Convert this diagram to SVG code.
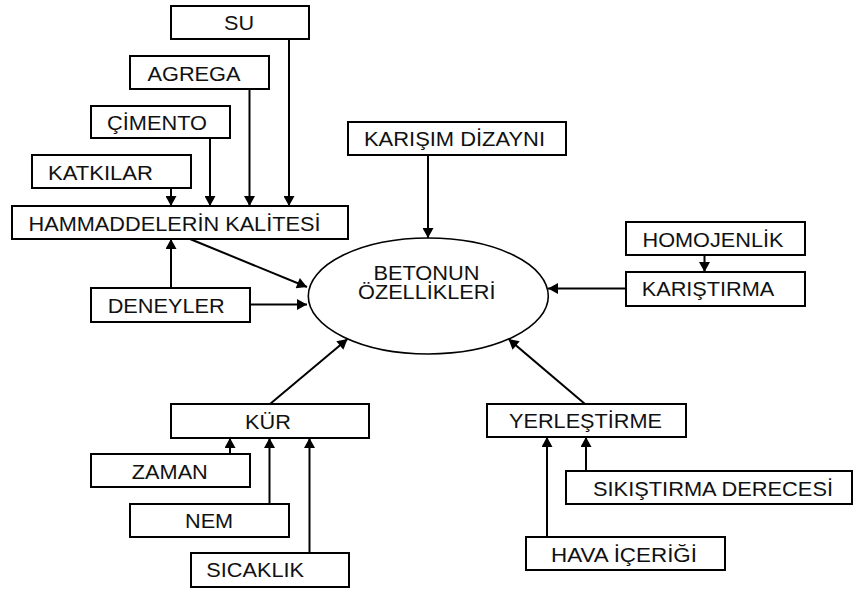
<svg xmlns="http://www.w3.org/2000/svg" width="853" height="590" viewBox="0 0 853 590">
<style>
.box{fill:#fff;stroke:#000;stroke-width:2}
.t{font-family:"Liberation Sans",Arial,sans-serif;font-size:19.5px;fill:#111}
.c{stroke:#000;stroke-width:2;fill:none;marker-end:url(#ah)}
</style>
<defs>
<marker id="ah" markerUnits="userSpaceOnUse" markerWidth="11" markerHeight="11" viewBox="0 0 10 11" refX="10" refY="5.5" orient="auto">
<path d="M0,0 L10,5.5 L0,11 z" fill="#000"/>
</marker>
</defs>
<rect width="853" height="590" fill="#fff"/>
<g id="connectors">
<line class="c" x1="289" y1="39" x2="289" y2="206"/>
<line class="c" x1="249.5" y1="89" x2="249.5" y2="206"/>
<line class="c" x1="210" y1="138" x2="210" y2="206"/>
<line class="c" x1="171" y1="188" x2="171" y2="206"/>
<line class="c" x1="171" y1="288" x2="171" y2="239"/>
<line class="c" x1="190" y1="239" x2="307" y2="287"/>
<line class="c" x1="250" y1="304.5" x2="307" y2="304.5"/>
<line class="c" x1="428" y1="155" x2="428" y2="238"/>
<line class="c" x1="704.5" y1="255" x2="704.5" y2="272"/>
<line class="c" x1="626" y1="288.5" x2="548" y2="288.5"/>
<line class="c" x1="270" y1="404" x2="347.5" y2="339"/>
<line class="c" x1="585" y1="404" x2="508.5" y2="339"/>
<line class="c" x1="230" y1="454" x2="230" y2="438"/>
<line class="c" x1="269.5" y1="504" x2="269.5" y2="438"/>
<line class="c" x1="309.5" y1="553" x2="309.5" y2="438"/>
<line class="c" x1="586" y1="471" x2="586" y2="437"/>
<line class="c" x1="547" y1="537" x2="547" y2="437"/>
</g>
<g id="su"><rect class="box" x="171" y="6" width="138" height="33"/><text class="t" x="224" y="30" textLength="30" lengthAdjust="spacingAndGlyphs">SU</text></g>
<g id="agrega"><rect class="box" x="130" y="56" width="139" height="33"/><text class="t" x="147.5" y="81" textLength="93" lengthAdjust="spacingAndGlyphs">AGREGA</text></g>
<g id="cimento"><rect class="box" x="91" y="106" width="139" height="32"/><text class="t" x="107" y="130" textLength="100" lengthAdjust="spacingAndGlyphs">ÇİMENTO</text></g>
<g id="katkilar"><rect class="box" x="32" y="155" width="159" height="33"/><text class="t" x="48" y="180" textLength="105" lengthAdjust="spacingAndGlyphs">KATKILAR</text></g>
<g id="hammadde"><rect class="box" x="12" y="206" width="336" height="33"/><text class="t" x="28.5" y="231" textLength="292" lengthAdjust="spacingAndGlyphs">HAMMADDELERİN KALİTESİ</text></g>
<g id="deneyler"><rect class="box" x="91" y="288" width="159" height="34"/><text class="t" x="107.7" y="312.7" textLength="117" lengthAdjust="spacingAndGlyphs">DENEYLER</text></g>
<g id="karisim"><rect class="box" x="348" y="122" width="218" height="33"/><text class="t" x="364" y="146" textLength="181" lengthAdjust="spacingAndGlyphs">KARIŞIM DİZAYNI</text></g>
<g id="beton"><ellipse cx="428.3" cy="296" rx="120" ry="58" fill="#fff" stroke="#000" stroke-width="1.6"/><text class="t" x="373.4" y="279.5" textLength="106" lengthAdjust="spacingAndGlyphs">BETONUN</text><text class="t" x="358" y="299.3" textLength="137.5" lengthAdjust="spacingAndGlyphs">ÖZELLİKLERİ</text></g>
<g id="homojenlik"><rect class="box" x="626" y="222" width="179" height="33"/><text class="t" x="642.5" y="246.7" textLength="141" lengthAdjust="spacingAndGlyphs">HOMOJENLİK</text></g>
<g id="karistirma"><rect class="box" x="626" y="272" width="179" height="34"/><text class="t" x="641.7" y="296" textLength="132.6" lengthAdjust="spacingAndGlyphs">KARIŞTIRMA</text></g>
<g id="kur"><rect class="box" x="171" y="404" width="198" height="34"/><text class="t" x="245" y="429" textLength="45.8" lengthAdjust="spacingAndGlyphs">KÜR</text></g>
<g id="zaman"><rect class="box" x="91" y="454" width="159" height="33"/><text class="t" x="131.8" y="479" textLength="76" lengthAdjust="spacingAndGlyphs">ZAMAN</text></g>
<g id="nem"><rect class="box" x="130" y="504" width="159" height="33"/><text class="t" x="185" y="528.3" textLength="48.2" lengthAdjust="spacingAndGlyphs">NEM</text></g>
<g id="sicaklik"><rect class="box" x="191" y="553" width="158" height="34"/><text class="t" x="206.3" y="577.3" textLength="97.7" lengthAdjust="spacingAndGlyphs">SICAKLIK</text></g>
<g id="yerlestirme"><rect class="box" x="487" y="404" width="199" height="33"/><text class="t" x="509" y="428.3" textLength="153" lengthAdjust="spacingAndGlyphs">YERLEŞTİRME</text></g>
<g id="sikistirma"><rect class="box" x="566" y="471" width="286" height="33"/><text class="t" x="593" y="495.7" textLength="240" lengthAdjust="spacingAndGlyphs">SIKIŞTIRMA DERECESİ</text></g>
<g id="hava"><rect class="box" x="526" y="537" width="199" height="33"/><text class="t" x="551" y="561.7" textLength="146" lengthAdjust="spacingAndGlyphs">HAVA İÇERİĞİ</text></g>
</svg>
